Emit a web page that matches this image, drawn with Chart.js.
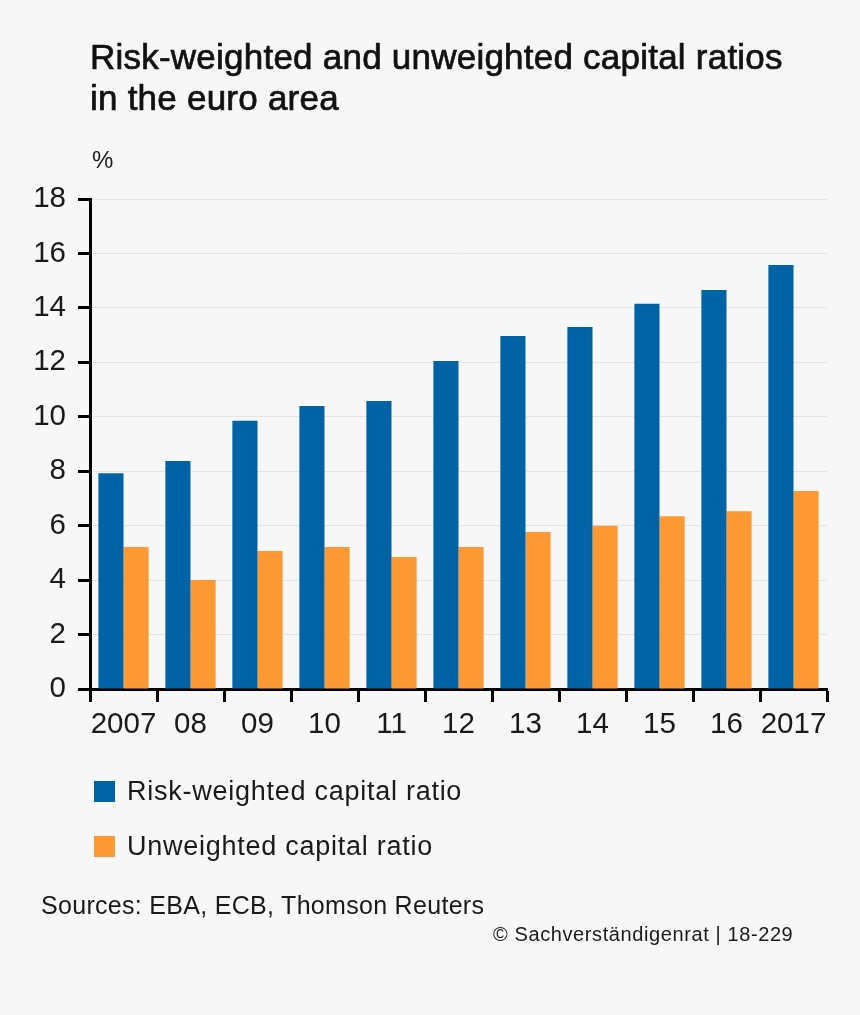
<!DOCTYPE html>
<html>
<head>
<meta charset="utf-8">
<script src="https://cdn.jsdelivr.net/npm/chart.js@4"></script>
<style>
html, body { margin: 0; padding: 0; background: #f7f7f7; }
#wrap { position: relative; width: 860px; height: 1015px; font-family: "Liberation Sans", sans-serif; color: #1a1a1a; overflow: hidden; }
#wrap canvas { position: absolute; left: 0; top: 0; }
.txt { position: absolute; white-space: nowrap; }
#title { left: 90px; top: 36px; font-size: 35px; line-height: 41px; letter-spacing: 0.23px; -webkit-text-stroke: 0.7px #111; color: #111; }
#unit { left: 92px; top: 146px; font-size: 24px; }
#sources { left: 41px; top: 891px; font-size: 25px; letter-spacing: 0.3px; }
#copy { left: 493px; top: 923px; font-size: 20px; letter-spacing: 0.6px; }
.leg-box { position: absolute; left: 94px; width: 21px; height: 21px; }
.leg-text { position: absolute; left: 127px; font-size: 27px; letter-spacing: 0.74px; white-space: nowrap; }
</style>
</head>
<body>
<div id="wrap">
  <canvas id="myChart" width="860" height="1015"></canvas>
  <div class="txt" id="title">Risk-weighted and unweighted capital ratios<br>in the euro area</div>
  <div class="txt" id="unit">%</div>
  <div id="legend"></div>
  <div class="txt" id="sources">Sources: EBA, ECB, Thomson Reuters</div>
  <div class="txt" id="copy">© Sachverständigenrat | 18-229</div>
</div>
<script>
const years = ['2007', '08', '09', '10', '11', '12', '13', '14', '15', '16', '2017']
const riskWeighted = [7.93, 8.38, 9.85, 10.4, 10.58, 12.05, 12.97, 13.3, 14.15, 14.66, 15.58]
const unweighted = [5.22, 4.0, 5.07, 5.22, 4.85, 5.22, 5.77, 6.0, 6.35, 6.53, 7.27]
const seriesNames = ['Risk-weighted capital ratio', 'Unweighted capital ratio']
const seriesColors = ['#0063a5', '#ff9933']

const tickFont = { family: '"Liberation Sans", sans-serif', size: 29.5 }

// legend sits below the plot, built from the same names and colours
const legend = document.getElementById('legend')
seriesNames.forEach((name, i) => {
    const box = document.createElement('div')
    box.className = 'leg-box'
    box.style.top = (781 + i * 55) + 'px'
    box.style.background = seriesColors[i]
    const label = document.createElement('div')
    label.className = 'leg-text'
    label.style.top = (776 + i * 55) + 'px'
    label.textContent = name
    legend.appendChild(box)
    legend.appendChild(label)
})

const ctx = document.getElementById('myChart').getContext('2d')
new Chart(ctx, {
    type: 'bar',
    data: {
        labels: years,
        datasets: [
            { label: seriesNames[0], data: riskWeighted, backgroundColor: seriesColors[0], borderWidth: 0 },
            { label: seriesNames[1], data: unweighted, backgroundColor: seriesColors[1], borderWidth: 0 }
        ]
    },
    options: {
        responsive: false,
        animation: false,
        devicePixelRatio: 1,
        categoryPercentage: 0.75,
        barPercentage: 1,
        layout: { padding: { left: 0, top: 199, right: 33, bottom: 266 } },
        plugins: { legend: { display: false }, title: { display: false }, tooltip: { enabled: false } },
        scales: {
            x: {
                afterFit: scale => { scale.height = 60 },
                border: { color: '#000', width: 3 },
                grid: {
                    offset: true,
                    lineWidth: 1,
                    tickWidth: 3,
                    tickLength: 13,
                    tickColor: '#000',
                    color: c => c.index === years.length ? '#e4e4e4' : 'rgba(0,0,0,0)'
                },
                ticks: { color: '#1a1a1a', font: tickFont, maxRotation: 0, autoSkip: false, padding: 5 }
            },
            y: {
                min: 0,
                max: 18,
                afterFit: scale => { scale.width = 90 },
                border: { color: '#000', width: 3 },
                grid: { lineWidth: 1, tickWidth: 3, tickLength: 12, tickColor: '#000', color: '#e4e4e4' },
                ticks: { stepSize: 2, color: '#1a1a1a', font: tickFont, padding: 12 }
            }
        }
    }
})
</script>
</body>
</html>
